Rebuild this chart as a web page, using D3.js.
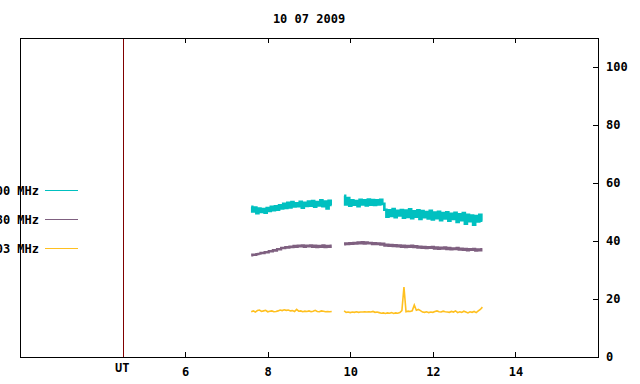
<!DOCTYPE html>
<html>
<head>
<meta charset="utf-8">
<script src="https://cdn.jsdelivr.net/npm/d3@7"></script>
<style>
  body { margin: 0; background: #fff; }
  svg { display: block; }
  text { font-family: "DejaVu Sans Mono", monospace; font-size: 12px; font-weight: bold; fill: #000; }
</style>
</head>
<body>
<div id="chart"></div>
<script>
// ---- data ----
const title = '10 07 2009';
const seriesNames = ['1400 MHz', '2380 MHz', '4903 MHz'];
const seriesColors = ['#00c0c0', '#7f6080', '#ffc020'];
const sampleStep = 0.05; // hours between samples
const segmentStarts = [7.60, 9.85]; // UT hours where each recorded segment begins

const cyanSeg1 = [
  51.8, 50.2, 51.5, 49.6, 51.2, 50.0, 51.0, 49.8, 51.4, 50.4,
  51.8, 50.6, 52.0, 50.8, 52.3, 51.2, 52.8, 51.4, 53.2, 51.6,
  53.4, 51.9, 53.0, 52.0, 53.5, 51.5, 53.2, 52.1, 53.6, 52.2,
  53.8, 51.8, 53.4, 52.3, 54.0, 52.0, 53.6, 51.2, 53.9, 52.4
];
const cyanSeg2 = [
  55.6, 52.6, 54.8, 52.2, 54.0, 52.5, 53.8, 52.0, 54.2, 52.6,
  54.0, 52.3, 54.3, 52.5, 54.1, 52.4, 54.0, 52.6, 54.2, 52.8,
  50.8, 48.4, 50.6, 48.6, 51.0, 48.2, 50.4, 48.8, 50.7, 48.0,
  50.5, 48.3, 50.9, 47.9, 50.2, 48.4, 50.6, 47.6, 50.3, 48.2,
  50.0, 47.8, 50.4, 47.4, 49.8, 47.9, 50.1, 47.2, 49.6, 47.8,
  49.9, 47.0, 49.4, 47.6, 49.7, 46.6, 49.2, 47.2, 49.6, 46.0,
  49.0, 46.8, 48.8, 45.6, 48.6, 46.7, 49.0, 47.0
];
const purpleSeg1 = [
  35.0, 35.3, 35.2, 35.5, 35.6, 35.9, 35.8, 36.2, 36.1, 36.5,
  36.4, 36.9, 36.7, 37.2, 37.1, 37.6, 37.5, 37.9, 37.7, 38.1,
  37.9, 38.3, 38.0, 38.4, 38.1, 38.5, 38.0, 38.4, 38.1, 38.5,
  38.0, 38.4, 37.9, 38.3, 38.0, 38.5, 37.9, 38.3, 38.0, 38.4
];
const purpleSeg2 = [
  38.8, 39.2, 38.9, 39.3, 39.0, 39.4, 39.1, 39.5, 39.2, 39.6,
  39.1, 39.5, 39.2, 39.4, 38.9, 39.3, 38.9, 39.2, 38.7, 39.1,
  38.4, 38.8, 38.3, 38.7, 38.2, 38.6, 38.1, 38.5, 38.0, 38.4,
  37.9, 38.3, 38.0, 38.4, 37.9, 38.2, 37.7, 38.1, 37.6, 38.0,
  37.5, 37.9, 37.6, 38.0, 37.4, 37.8, 37.3, 37.7, 37.4, 37.8,
  37.2, 37.6, 37.1, 37.5, 37.2, 37.6, 37.0, 37.4, 36.9, 37.3,
  36.8, 37.2, 36.9, 37.3, 36.7, 37.1, 36.8, 37.2
];
const yellowSeg1 = [
  15.6, 15.9, 15.5, 16.0, 16.2, 15.7, 15.9, 16.1, 15.6, 15.8,
  15.9, 15.6, 15.7, 15.9, 16.2, 16.0, 16.3, 16.1, 16.2, 15.9,
  16.0, 15.7, 16.4, 15.8, 15.9, 15.6, 15.8, 15.7, 15.9, 15.6,
  15.8, 16.1, 15.7, 15.6, 15.9, 15.8, 15.6, 15.7, 15.6, 15.7
];
const yellowSeg2 = [
  15.9, 15.4, 15.5, 15.3, 15.5, 15.4, 15.6, 15.4, 15.5, 15.5,
  15.6, 15.5, 15.6, 15.5, 15.7, 15.4, 15.5, 15.3, 15.1, 15.2,
  15.0, 15.2, 15.1, 15.3, 15.0, 15.2, 15.1, 15.3, 16.0, 24.1,
  15.6, 15.8, 15.7, 15.9, 17.9, 16.1, 16.4, 16.0, 15.5, 15.4,
  15.6, 15.3, 15.5, 15.4, 15.7, 15.9, 15.6, 15.5, 15.8, 15.6,
  15.5, 15.4, 15.7, 15.5, 15.9, 15.3, 15.6, 15.4, 15.8, 15.5,
  15.2, 15.6, 15.4, 15.7, 15.3, 15.9, 16.4, 17.2
];
const seriesSegments = [
  [cyanSeg1, cyanSeg2],
  [purpleSeg1, purpleSeg2],
  [yellowSeg1, yellowSeg2]
];

const xTicks = [6, 8, 10, 12, 14];
const yTicks = [0, 20, 40, 60, 80, 100];
const xDomain = [2, 16];
const yDomain = [0, 110];
const utMark = 4.5;
const utLabel = 'UT';

// ---- layout ----
const width = 640;
const height = 384;
const plot = { left: 20, right: 598, top: 38, bottom: 357 };

// noisy traces are drawn as steps so the fast jitter reads as a solid band
const traceStyle = [
  { curve: d3.curveStep, width: 2.6 },
  { curve: d3.curveStep, width: 2.2 },
  { curve: d3.curveLinear, width: 1.6 }
];

const svg = d3.select('#chart')
  .append('svg')
  .attr('width', width)
  .attr('height', height);

const x = d3.scaleLinear().domain(xDomain).range([plot.left, plot.right]);
const y = d3.scaleLinear().domain(yDomain).range([plot.bottom, plot.top]);

// title
svg.append('text')
  .attr('x', (plot.left + plot.right) / 2)
  .attr('y', 23)
  .attr('text-anchor', 'middle')
  .text(title);

// series
const traces = svg.append('g').attr('class', 'traces');
seriesSegments.forEach((segs, si) => {
  const line = d3.line()
    .curve(traceStyle[si].curve)
    .x((d) => x(d[0]))
    .y((d) => y(d[1]));

  segs.forEach((vals, k) => {
    const pts = vals.map((v, i) => [segmentStarts[k] + i * sampleStep, v]);
    traces.append('path')
      .attr('d', line(pts))
      .attr('fill', 'none')
      .attr('stroke', seriesColors[si])
      .attr('stroke-width', traceStyle[si].width);
  });
});

// UT marker line
svg.append('line')
  .attr('x1', x(utMark)).attr('x2', x(utMark))
  .attr('y1', plot.top).attr('y2', plot.bottom)
  .attr('stroke', '#800000')
  .attr('shape-rendering', 'crispEdges');

svg.append('text')
  .attr('x', x(utMark) - 1)
  .attr('y', 372)
  .attr('text-anchor', 'middle')
  .text(utLabel);

// axes
const xAxis = svg.append('g')
  .attr('transform', `translate(0, ${plot.bottom})`)
  .call(d3.axisBottom(x).tickValues(xTicks).tickSizeInner(-5).tickSizeOuter(0));
xAxis.selectAll('text').attr('dy', null).attr('y', 19);

const xTop = svg.append('g')
  .attr('transform', `translate(0, ${plot.top})`)
  .call(d3.axisTop(x).tickValues(xTicks).tickSizeInner(-5).tickSizeOuter(0).tickFormat(''));

const yAxis = svg.append('g')
  .attr('transform', `translate(${plot.right}, 0)`)
  .call(d3.axisRight(y).tickValues(yTicks).tickSizeInner(-5).tickSizeOuter(0).tickPadding(8));

[xAxis, xTop, yAxis].forEach((g) => {
  g.select('.domain').remove();
  g.selectAll('line').attr('stroke', '#000').attr('shape-rendering', 'crispEdges');
  g.selectAll('text')
    .style('font-family', '"DejaVu Sans Mono", monospace')
    .style('font-size', '12px')
    .style('font-weight', 'bold')
    .attr('fill', '#000');
});

// border
svg.append('rect')
  .attr('x', plot.left)
  .attr('y', plot.top)
  .attr('width', plot.right - plot.left)
  .attr('height', plot.bottom - plot.top)
  .attr('fill', 'none')
  .attr('stroke', '#000')
  .attr('shape-rendering', 'crispEdges');

// legend (text runs off the left edge, as in the source image)
const legend = svg.append('g').attr('class', 'legend')
  .selectAll('g')
  .data(seriesNames)
  .join('g')
  .attr('transform', (d, i) => `translate(0, ${190 + i * 29})`);

legend.append('text')
  .attr('x', 39)
  .attr('y', 5)
  .attr('text-anchor', 'end')
  .text((d) => d);

legend.append('line')
  .attr('x1', 45).attr('x2', 78)
  .attr('y1', 0.5).attr('y2', 0.5)
  .attr('stroke', (d, i) => seriesColors[i])
  .attr('shape-rendering', 'crispEdges');
</script>
</body>
</html>
